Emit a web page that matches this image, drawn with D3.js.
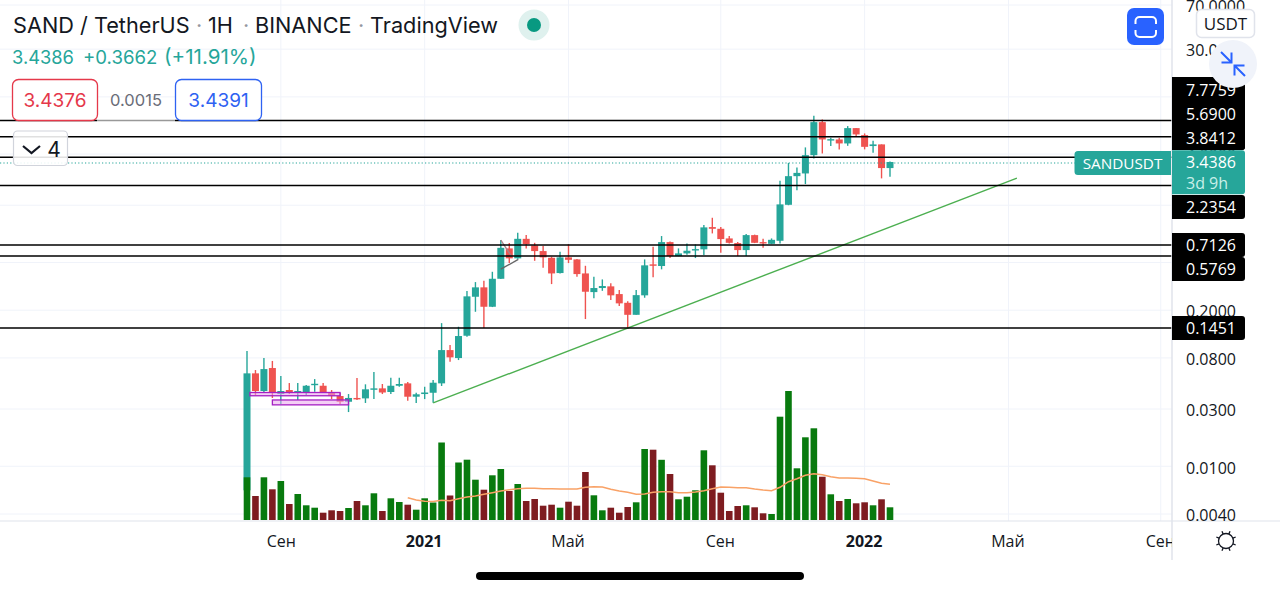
<!DOCTYPE html>
<html><head><meta charset="utf-8">
<script src="https://cdn.jsdelivr.net/npm/d3@7"></script>
<style>html,body{margin:0;padding:0;background:#fff;overflow:hidden}svg{display:block}</style>
</head><body><svg id="c" width="1280" height="591"></svg>
<script>
const opens=[.0063,.0595,.0424,.0659,.0400,.0432,.0416,.0412,.0475,.0469,.0416,.0385,.0345,.0371,.0368,.0434,.0446,.0416,.0469,.0491,.0380,.0400,.0410,.0491,.0930,.0798,.1225,.2588,.310,.2136,.3655,.655,.541,.787,.694,.622,.547,.408,.551,.530,.405,.283,.306,.316,.2725,.2305,.183,.266,.482,.467,.739,.565,.595,.633,.643,.986,.954,.793,.725,.634,.845,.739,.715,.758,1.512,2.62,2.76,3.92,7.39,5.23,5.30,4.91,6.59,5.76,4.67,4.82,3.06];
const highs=[.0913,.0634,.0798,.0755,.0565,.0494,.0494,.0475,.0533,.0494,.0432,.0408,.0400,.0544,.0482,.0610,.0485,.0547,.0547,.0504,.0410,.0460,.0523,.156,.1024,.1456,.2887,.343,.352,.418,.768,.725,.883,.845,.729,.685,.558,.614,.711,.533,.469,.380,.361,.335,.294,.238,.294,.530,.676,.830,.748,.655,.721,.707,1.024,1.179,.986,.830,.739,.862,.853,.787,.793,2.396,3.38,3.10,4.55,8.34,7.78,5.47,5.47,6.85,6.60,5.95,5.16,4.82,3.47];
const lows=[.0063,.0392,.0416,.0371,.0330,.0400,.0357,.0392,.0418,.0408,.0363,.0330,.0283,.0357,.0337,.0363,.0400,.0400,.0460,.0352,.0337,.0363,.0338,.0467,.0744,.0768,.1201,.194,.142,.2123,.3634,.494,.538,.655,.516,.451,.330,.405,.494,.380,.1687,.251,.290,.243,.2166,.141,.183,.254,.376,.438,.544,.565,.579,.544,.576,.873,.602,.721,.565,.565,.725,.662,.711,.721,1.50,2.00,2.25,3.68,4.05,4.67,4.38,4.69,5.65,4.38,4.10,2.51,2.59];
const closes=[.0595,.0424,.0646,.0408,.0424,.0410,.0424,.0469,.0487,.0412,.0385,.0345,.0371,.0361,.0438,.0446,.0412,.0469,.0485,.0380,.0398,.0412,.0497,.0930,.0809,.1218,.2608,.310,.2136,.3655,.662,.541,.787,.711,.622,.551,.405,.551,.526,.400,.285,.306,.318,.266,.228,.183,.267,.473,.469,.739,.565,.595,.626,.646,.980,.954,.783,.729,.634,.845,.729,.721,.772,1.524,2.62,2.79,3.92,7.39,5.30,5.33,4.91,6.59,5.84,4.60,4.82,3.06,3.4386];
const volumes=[42.7,24,42.7,30.7,39,16,26,14.7,12.3,7.3,9.7,9,12,19,14.7,26.7,9,21.7,18,15.3,10.3,21.7,17.5,77.5,24.5,57.5,60.3,40.3,30.3,44.7,51,29,36,19,21,14.3,15.3,12.3,18.3,14.3,48,24.7,9.7,12.3,7.3,13,17.7,71,70.3,60.2,46,20.7,23.3,29.7,69.7,54.7,27.3,9,14,14.7,12.7,6.7,6,103.3,129,51.7,82.7,91.7,43.3,25.7,19,21,16.7,17.7,14.7,20.7,12.7];
const volumeMAStart=19;
const volumeMA=[22.3,20,18.7,18.5,19.7,19.3,21.3,23,24,25.7,27.3,29,30.3,31.3,31.7,31.7,31.3,31.3,31,31,31,32.7,33.3,33,30.7,29,27.7,25.7,26,27.7,28.3,28.2,27.3,27.3,28,29.3,31.3,33,32.7,32.3,32.3,31,30,29.3,32.7,38.3,41.3,44.7,46.3,45.3,43.3,42,42,41.7,41.3,39,36.7,35.7];
const levels=[7.7759,5.69,3.8412,2.2354,.7126,.5769,.1451];
const lastPrice=3.4386;
const priceTicks=[70,30,12,4,1.5,.5,.2,.08,.03,.01,.004];
const timeTickIdx=[4,21,38,56,73,90,108];
const timeTickLabels=["Сен","2021","Май","Сен","2022","Май","Сен"];
const trendIdx=[22,91], trendPrice=[.0337,2.52];
const boxes=[{i0:.35,i1:11,p0:.0412,p1:.0387},{i0:3,i1:12,p0:.0357,p1:.0325}];
const arrowA={i:[30,32.07],p:[.440,.530]}, arrowB={i:[30,31.3],p:[.768,.558]};

const FONT="'Open Sans','Noto Sans',sans-serif", INTER="Inter,'Noto Sans',sans-serif";
const UP="#26a69a",DN="#ef5350",GRID="#f0f3fa",BORDER="#e0e3eb",INK="#131722";
const svg=d3.select("#c");
const x=d3.scaleLinear().domain([0,76]).range([247,890]);
const y=d3.scaleLog().domain([.004,70]).range([514,5]);
const v=d3.scaleLinear().domain([0,129]).range([520,391]);
const axisX=1172, baseY=521;

svg.append("clipPath").attr("id","plot").append("rect").attr("x",0).attr("y",0).attr("width",axisX).attr("height",baseY);
svg.append("clipPath").attr("id","xax").append("rect").attr("x",0).attr("y",baseY).attr("width",axisX).attr("height",40);

const gridG=svg.append("g").attr("clip-path","url(#plot)");
gridG.selectAll(".h").data(priceTicks).join("line").attr("x1",0).attr("x2",axisX).attr("y1",d=>y(d)).attr("y2",d=>y(d)).attr("stroke",GRID);
gridG.selectAll(".v").data(timeTickIdx).join("line").attr("x1",d=>x(d)).attr("x2",d=>x(d)).attr("y1",0).attr("y2",baseY).attr("stroke",GRID);

// candles
const idx=d3.range(opens.length);
const col=i=>closes[i]>=opens[i]?UP:DN;
const cg=svg.append("g");
cg.selectAll("line").data(idx).join("line").attr("x1",i=>x(i)).attr("x2",i=>x(i)).attr("y1",i=>y(highs[i])).attr("y2",i=>y(lows[i])).attr("stroke",col).attr("stroke-width",1.4);
cg.selectAll("rect").data(idx).join("rect").attr("x",i=>x(i)-3.5).attr("width",7)
  .attr("y",i=>y(Math.max(opens[i],closes[i]))).attr("height",i=>Math.max(1.4,Math.abs(y(opens[i])-y(closes[i])))).attr("fill",col);

// volume
svg.append("g").selectAll("rect").data(idx).join("rect").attr("x",i=>x(i)-3.3).attr("width",6.6)
  .attr("y",i=>v(volumes[i])).attr("height",i=>v(0)-v(volumes[i])).attr("fill",i=>closes[i]>=opens[i]?"#087a0e":"#7e1c20");
svg.append("path").datum(volumeMA).attr("fill","none").attr("stroke","#f9a267").attr("stroke-width",1.5)
  .attr("d",d3.line().x((d,i)=>x(i+volumeMAStart)).y(d=>v(d)));

// drawings
svg.append("g").selectAll("rect").data(boxes).join("rect").attr("x",d=>x(d.i0)).attr("width",d=>x(d.i1)-x(d.i0))
  .attr("y",d=>y(d.p0)).attr("height",d=>y(d.p1)-y(d.p0)).attr("fill","#e9a6ec").attr("fill-opacity",.55).attr("stroke","#a41fc4").attr("stroke-width",1.3);
svg.append("line").attr("x1",x(trendIdx[0])).attr("x2",x(trendIdx[1])).attr("y1",y(trendPrice[0])).attr("y2",y(trendPrice[1])).attr("stroke","#4caf50").attr("stroke-width",1.4);
svg.append("line").attr("x1",x(arrowA.i[0])).attr("x2",x(arrowA.i[1])).attr("y1",y(arrowA.p[0])).attr("y2",y(arrowA.p[1])).attr("stroke","#666").attr("stroke-width",1.3);
svg.append("line").attr("x1",x(arrowB.i[0])).attr("x2",x(arrowB.i[1])).attr("y1",y(arrowB.p[0])).attr("y2",y(arrowB.p[1])).attr("stroke","#a8858c").attr("stroke-width",1.3);

// horizontal levels
svg.append("g").attr("transform","translate(0,1)").selectAll("line").data(levels).join("line").attr("x1",0).attr("x2",axisX).attr("y1",d=>y(d)).attr("y2",d=>y(d)).attr("stroke","#000").attr("stroke-width",1.5);
svg.append("line").attr("x1",0).attr("x2",1075).attr("y1",y(lastPrice)+1).attr("y2",y(lastPrice)+1).attr("stroke",UP).attr("stroke-width",1.2).attr("stroke-dasharray","1.2 2.2");

// axes
svg.append("line").attr("x1",0).attr("x2",1280).attr("y1",baseY).attr("y2",baseY).attr("stroke",BORDER).attr("stroke-width",1.2);
svg.append("line").attr("x1",axisX).attr("x2",axisX).attr("y1",0).attr("y2",560).attr("stroke",BORDER).attr("stroke-width",1.5);
const yAxis=d3.axisRight(y).tickValues(priceTicks).tickFormat(d3.format(".4f")).tickSize(0).tickPadding(0);
const ya=svg.append("g").attr("transform","translate(1186,1)").call(yAxis);
ya.select(".domain").remove();
ya.selectAll("text").attr("font-family",FONT).attr("font-size",16).attr("fill",INK).attr("dy",".36em");
const xAxis=d3.axisBottom(x).tickValues(timeTickIdx).tickFormat((d,i)=>timeTickLabels[i]).tickSize(0).tickPadding(0);
const xa=svg.append("g").attr("clip-path","url(#xax)").append("g").attr("transform","translate(0,536)").call(xAxis);
xa.select(".domain").remove();
xa.selectAll("text").attr("font-family",FONT).attr("font-size",16).attr("fill",INK).attr("dy",".71em")
  .attr("font-weight",(d,i)=>/^\d/.test(timeTickLabels[i])?700:400).attr("dx",(d,i)=>i===0?0:-1);

// price tags
function tag(yc,h,fill,txt,ty){
  svg.append("path").attr("d",`M1172,${yc-h/2}H1242a3,3 0 0 1 3,3V${yc+h/2-3}a3,3 0 0 1 -3,3H1172Z`).attr("fill",fill);
  if(txt) svg.append("text").attr("x",1186).attr("y",ty).attr("dy",".36em").attr("font-family",FONT).attr("font-size",16).attr("fill","#fff").text(txt);
}
const tagCenters=[90,114,138,207,245,269,328];
tag(113.5,73,"#000");
levels.forEach((d,i)=>tag(tagCenters[i],24,"#000",d.toFixed(4),tagCenters[i]));
tag(172.3,44,UP);
svg.append("text").attr("x",1186).attr("y",162.5).attr("dy",".36em").attr("font-family",FONT).attr("font-size",16).attr("fill","#fff").text(lastPrice.toFixed(4));
svg.append("text").attr("x",1186).attr("y",183).attr("dy",".36em").attr("font-family",FONT).attr("font-size",16).attr("fill","#c9efe9").text("3d 9h");
svg.append("path").attr("d","M1171,151V175H1078a3.5,3.5 0 0 1 -3.5,-3.5V154.5a3.5,3.5 0 0 1 3.5,-3.5Z").attr("fill",UP);
svg.append("text").attr("x",1122.5).attr("y",163).attr("dy",".36em").attr("text-anchor","middle").attr("font-family",FONT).attr("font-size",15.3).attr("fill","#fff").text("SANDUSDT");

// header
const txt=(xp,yp,s,size,fill,fam,anchor)=>svg.append("text").attr("x",xp).attr("y",yp).attr("dy",".36em").attr("font-family",fam||INTER).attr("font-size",size).attr("fill",fill).attr("text-anchor",anchor||"start").text(s);
txt(13,25,"SAND / TetherUS",21.7,INK);
txt(196,25,"·",21.7,"#9598a1");
txt(208,25,"1H",21.7,INK);
txt(243,25,"·",21.7,"#9598a1");
txt(255,25,"BINANCE",21.7,INK);
txt(358,25,"·",21.7,"#9598a1");
txt(370,25,"TradingView",21.7,INK);
svg.append("circle").attr("cx",534).attr("cy",25).attr("r",15.5).attr("fill","#dff1ee");
svg.append("circle").attr("cx",534).attr("cy",25).attr("r",7).attr("fill","#089981");
txt(12,57,"3.4386",18.3,UP);
txt(83,57,"+0.3662",18.6,UP);
txt(164,57,"(+11.91%)",20.6,UP);
function box(x0,w,stroke,s){
  svg.append("rect").attr("x",x0+.5).attr("y",79.5).attr("width",w).attr("height",41).attr("rx",6).attr("fill","#fff").attr("stroke",stroke).attr("stroke-width",1.3);
  txt(x0+w/2+.5,100,s,19,stroke,INTER,"middle");
}
svg.append("rect").attr("x",97).attr("y",118).attr("width",78).attr("height",5).attr("fill","#fff").attr("fill-opacity",.6);
box(12,85,"#e5384a","3.4376");
txt(136,100,"0.0015",16.5,"#6a6d78",INTER,"middle");
box(175,86,"#2e62f2","3.4391");
svg.append("rect").attr("x",13.5).attr("y",131).attr("width",54).attr("height",34.5).attr("rx",4).attr("fill","#fff").attr("fill-opacity",.88).attr("stroke","#d1d4dc").attr("stroke-width",1.2);
svg.append("path").attr("d","M23,146L31.5,153L40,146").attr("fill","none").attr("stroke",INK).attr("stroke-width",2.2);
txt(54,149,"4",21,INK,INTER,"middle");

// controls
svg.append("rect").attr("x",1127).attr("y",8).attr("width",37).attr("height",37).attr("rx",7).attr("fill","#2962ff");
svg.append("path").attr("d","M1135.5,24V21a4,4 0 0 1 4,-4H1152a4,4 0 0 1 4,4V24M1135.5,30V33a4,4 0 0 0 4,4H1152a4,4 0 0 0 4,-4V30").attr("fill","none").attr("stroke","#fff").attr("stroke-width",2);
svg.append("rect").attr("x",1196.5).attr("y",9.5).attr("width",58).attr("height",28).attr("rx",5).attr("fill","#fff").attr("stroke","#e0e3eb").attr("stroke-width",1.5);
txt(1225.5,24,"USDT",17,INK,FONT,"middle");
svg.append("circle").attr("cx",1233).attr("cy",64).attr("r",24).attr("fill","#f0f3fa");
svg.append("path").attr("d","M1221,52L1231.5,62.5M1231.5,52.5V62.5H1221.5M1245,76L1234.5,65.5M1234.5,75.5V65.5H1244.5").attr("fill","none").attr("stroke","#2962ff").attr("stroke-width",2);
svg.append("circle").attr("cx",1226).attr("cy",541).attr("r",7.5).attr("fill","none").attr("stroke",INK).attr("stroke-width",1.3);
const rays=d3.range(8).map(k=>k*Math.PI/4+Math.PI/8);
svg.append("g").selectAll("line").data(rays).join("line").attr("x1",a=>1226+7.5*Math.cos(a)).attr("y1",a=>541+7.5*Math.sin(a)).attr("x2",a=>1226+10.5*Math.cos(a)).attr("y2",a=>541+10.5*Math.sin(a)).attr("stroke",INK).attr("stroke-width",1.3);
svg.append("rect").attr("x",476).attr("y",572).attr("width",328).attr("height",8).attr("rx",4).attr("fill","#000");
</script></body></html>
